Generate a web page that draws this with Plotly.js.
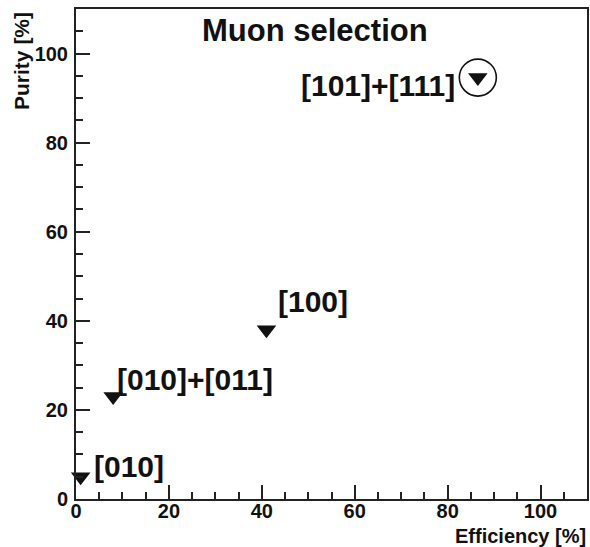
<!DOCTYPE html>
<html>
<head>
<meta charset="utf-8">
<script src="https://cdn.plot.ly/plotly-3.0.1.min.js"></script>
<style>html,body{margin:0;padding:0;background:#fff;}#chart{width:590px;height:547px;}</style>
</head>
<body>
<div id="chart"></div>
<script>
// Data
var efficiency = [1, 8, 41, 86.5];
var purity = [5, 23, 38, 94.6];
var pointLabels = ['[010]', '[010]+[011]', '[100]', '[101]+[111]'];
var highlighted = [false, false, false, true];
var titleText = 'Muon selection';
var xTitle = 'Efficiency [%]';
var yTitle = 'Purity [%]';

// Label placement (styling, pixel offsets from the marker)
var labelStyle = [
  {xshift: 11, yshift: 10, xanchor: 'left'},
  {xshift: 2, yshift: 17, xanchor: 'left'},
  {xshift: 10, yshift: 28, xanchor: 'left'},
  {xshift: -21, yshift: -8, xanchor: 'right'}
];

var FONT = 'Liberation Sans, Arial, Helvetica, sans-serif';
var INK = '#111111';

var hx = [], hy = [];
for (var i = 0; i < efficiency.length; i++) {
  if (highlighted[i]) { hx.push(efficiency[i]); hy.push(purity[i]); }
}

var traces = [
  {
    x: efficiency, y: purity, type: 'scatter', mode: 'markers',
    marker: {symbol: 'triangle-down', size: 17, color: INK, line: {width: 0}},
    cliponaxis: false, hoverinfo: 'skip'
  },
  {
    x: hx, y: hy, type: 'scatter', mode: 'markers',
    marker: {symbol: 'circle-open', size: 37, color: INK, line: {width: 1.6, color: INK}},
    cliponaxis: false, hoverinfo: 'skip'
  }
];

var annotations = [];
for (var j = 0; j < pointLabels.length; j++) {
  annotations.push({
    x: efficiency[j], y: purity[j], xref: 'x', yref: 'y',
    text: pointLabels[j], showarrow: false,
    xanchor: labelStyle[j].xanchor, yanchor: 'middle',
    xshift: labelStyle[j].xshift, yshift: labelStyle[j].yshift,
    font: {family: FONT, size: 30, color: INK, weight: 'bold'}
  });
}
annotations.push({
  x: 0.4677, y: 0.957, xref: 'paper', yref: 'paper', text: titleText,
  showarrow: false, xanchor: 'center', yanchor: 'middle',
  font: {family: FONT, size: 31, color: INK, weight: 'bold'}
});
annotations.push({
  x: 1, y: -0.0745, xref: 'paper', yref: 'paper', text: xTitle,
  showarrow: false, xanchor: 'right', yanchor: 'middle', borderpad: 0,
  font: {family: FONT, size: 20, color: INK, weight: 'bold'}
});
annotations.push({
  x: -0.1057, y: 0.998, xref: 'paper', yref: 'paper', text: yTitle,
  showarrow: false, xanchor: 'center', yanchor: 'top', textangle: -90,
  font: {family: FONT, size: 21, color: INK, weight: 'bold'}
});

var axisCommon = {
  range: [0, 110], dtick: 20, tick0: 0,
  showgrid: false, zeroline: false,
  showline: true, mirror: true, linecolor: '#222', linewidth: 2,
  ticks: 'inside', ticklen: 14, tickwidth: 2, tickcolor: '#222',
  minor: {dtick: 5, ticks: 'inside', ticklen: 7, tickwidth: 2, tickcolor: '#222', showgrid: false},
  tickfont: {family: FONT, size: 20, color: INK, weight: 'bold'},
  fixedrange: true
};

var layout = {
  width: 590, height: 547,
  margin: {l: 76, r: 3, t: 9, b: 48, pad: 0},
  paper_bgcolor: '#ffffff', plot_bgcolor: '#ffffff',
  showlegend: false,
  xaxis: Object.assign({}, axisCommon, {ticklabelstandoff: -7}),
  yaxis: Object.assign({}, axisCommon, {ticklabelstandoff: 2}),
  annotations: annotations
};

Plotly.newPlot('chart', traces, layout, {staticPlot: true, displayModeBar: false});
</script>
</body>
</html>
